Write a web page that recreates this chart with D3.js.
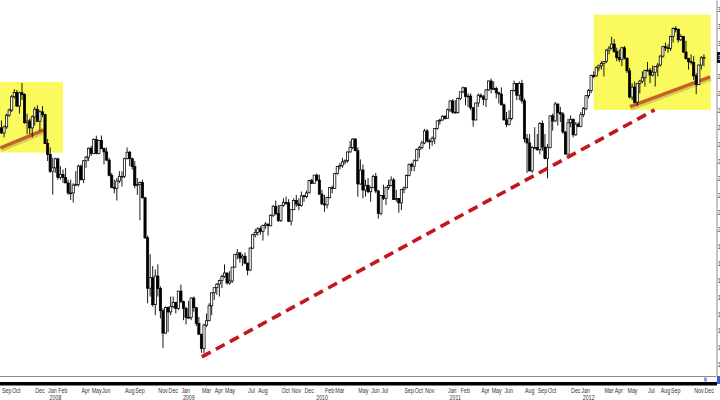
<!DOCTYPE html>
<html>
<head>
<meta charset="utf-8">
<script src="https://cdn.jsdelivr.net/npm/d3@7"></script>
<style>
  html, body { margin: 0; padding: 0; background: #fff; }
  svg { display: block; font-family: "Liberation Sans", Arial, sans-serif; }
</style>
</head>
<body>
<div id="chart"></div>
<script>
// weekly bars, first one is the week starting Mon 20 Aug 2007
const firstWeek = new Date(2007, 7, 20)

const opens = [
  2520, 2576, 2596, 2566, 2602, 2671, 2701, 2780, 2805, 2725, 2804, 2794, 2627, 2637, 2596, 2661, 2706, 2635, 2691,
  2674, 2504, 2439, 2340, 2360, 2413, 2304, 2321, 2303, 2271, 2212, 2212, 2258, 2261, 2370, 2290, 2402, 2423, 2476, 2445, 2528, 2444, 2522, 2474, 2454, 2406,
  2316, 2245, 2239, 2282, 2310, 2310, 2414, 2452, 2414, 2368, 2255, 2261, 2273, 2183, 1947, 1649, 1711, 1552, 1721, 1647, 1516, 1384, 1536, 1509, 1540, 1564,
  1530, 1632, 1571, 1529, 1477, 1476, 1591, 1534, 1441, 1377, 1293, 1431, 1457, 1545, 1622, 1652, 1673, 1694, 1719, 1739, 1680, 1692, 1774, 1849, 1858, 1827,
  1838, 1797, 1756, 1886, 1965, 1979, 2000, 1985, 2020, 2028, 2018, 2080, 2133, 2090, 2048, 2139, 2156, 2154, 2045, 2113, 2167, 2146, 2138, 2195, 2190, 2212,
  2285, 2269, 2317, 2288, 2205, 2147, 2141, 2184, 2243, 2238, 2327, 2368, 2374, 2395, 2402, 2454, 2481, 2530, 2461, 2265, 2347, 2229, 2257, 2219, 2243, 2309,
  2223, 2091, 2196, 2179, 2245, 2255, 2288, 2173, 2179, 2153, 2233, 2242, 2315, 2381, 2370, 2402, 2468, 2479, 2507, 2578, 2518, 2518, 2535, 2592, 2637, 2642, 2665,
  2653, 2703, 2755, 2689, 2686, 2769, 2809, 2833, 2781, 2784, 2715, 2643, 2743, 2789, 2780, 2764, 2820, 2873, 2827, 2828, 2803, 2796, 2732, 2643, 2616, 2652,
  2816, 2859, 2789, 2858, 2756, 2532, 2507, 2342, 2480, 2480, 2467, 2622, 2483, 2415, 2479, 2667, 2637, 2737, 2686, 2678, 2572, 2441, 2626, 2647, 2555, 2618,
  2605, 2674, 2710, 2786, 2816, 2905, 2903, 2951, 2963, 2976, 2988, 3055, 3067, 3091, 3047, 3011, 3000, 3069, 3008, 2933, 2778, 2837, 2747, 2858, 2872,
  2892, 2935, 2937, 2908, 2925, 2958, 2967, 3020, 3076, 3069, 3066, 3136, 3183, 3179, 3116, 3136, 3044, 3005, 2987, 2982, 2904, 2853, 2967, 3010
]

const highs = [
  2580, 2600, 2640, 2610, 2680, 2710, 2790, 2825, 2820, 2810, 2861, 2800, 2680, 2650, 2670, 2720, 2730, 2700, 2725,
  2680, 2530, 2480, 2420, 2420, 2420, 2370, 2350, 2360, 2290, 2290, 2270, 2340, 2380, 2380, 2405, 2430, 2480, 2490, 2535, 2550, 2525, 2551, 2480, 2480, 2420,
  2330, 2290, 2300, 2340, 2340, 2420, 2480, 2460, 2420, 2400, 2300, 2280, 2290, 2190, 1960, 1850, 1780, 1760, 1790, 1660, 1530, 1540, 1540, 1600, 1600, 1570,
  1632, 1670, 1575, 1540, 1575, 1595, 1600, 1535, 1480, 1380, 1440, 1500, 1560, 1625, 1655, 1680, 1700, 1730, 1790, 1740, 1750, 1775, 1850, 1880, 1860, 1850,
  1860, 1800, 1890, 1970, 2000, 2010, 2015, 2025, 2040, 2030, 2085, 2140, 2167, 2140, 2140, 2180, 2190, 2175, 2115, 2180, 2200, 2180, 2220, 2200, 2225, 2290,
  2295, 2317, 2326, 2320, 2230, 2200, 2190, 2245, 2255, 2330, 2370, 2390, 2420, 2410, 2455, 2520, 2535, 2535, 2480, 2410, 2380, 2290, 2300, 2250, 2320, 2330,
  2230, 2200, 2260, 2250, 2290, 2310, 2300, 2230, 2180, 2235, 2250, 2320, 2385, 2390, 2410, 2475, 2490, 2520, 2590, 2590, 2530, 2545, 2595, 2640, 2650, 2670, 2670,
  2710, 2760, 2766, 2760, 2775, 2810, 2840, 2835, 2800, 2800, 2720, 2745, 2800, 2800, 2790, 2825, 2875, 2887, 2870, 2840, 2810, 2835, 2740, 2690, 2700, 2820,
  2875, 2860, 2870, 2880, 2770, 2560, 2560, 2490, 2600, 2560, 2630, 2640, 2560, 2500, 2670, 2680, 2750, 2740, 2720, 2690, 2575, 2650, 2670, 2650, 2630, 2630,
  2690, 2720, 2790, 2825, 2910, 2930, 2960, 2970, 2990, 2990, 3060, 3080, 3134, 3120, 3070, 3060, 3075, 3080, 3010, 2950, 2860, 2870, 2860, 2880, 2930,
  2940, 2985, 2950, 2965, 2960, 2980, 3025, 3080, 3100, 3090, 3140, 3190, 3196, 3180, 3150, 3140, 3110, 3010, 3030, 3020, 2920, 2970, 3020, 3030
]

const lows = [
  2510, 2500, 2560, 2540, 2590, 2660, 2690, 2770, 2720, 2680, 2760, 2620, 2560, 2560, 2540, 2610, 2630, 2580, 2660,
  2500, 2400, 2330, 2202, 2330, 2290, 2290, 2270, 2270, 2200, 2170, 2155, 2255, 2250, 2285, 2270, 2360, 2400, 2430, 2440, 2440, 2440, 2470, 2380, 2400, 2310,
  2240, 2210, 2167, 2270, 2250, 2300, 2410, 2370, 2350, 2240, 2200, 2050, 2180, 1940, 1560, 1600, 1540, 1490, 1600, 1470, 1295, 1380, 1390, 1490, 1530, 1500,
  1520, 1560, 1460, 1435, 1470, 1460, 1510, 1425, 1375, 1268, 1265, 1420, 1455, 1490, 1580, 1610, 1600, 1650, 1710, 1670, 1670, 1680, 1770, 1820, 1800, 1780,
  1790, 1725, 1750, 1880, 1950, 1960, 1965, 1930, 2000, 1960, 2015, 2070, 2080, 2040, 2040, 2130, 2140, 2040, 2020, 2110, 2130, 2110, 2130, 2160, 2180, 2210,
  2265, 2265, 2280, 2200, 2140, 2100, 2120, 2180, 2210, 2235, 2320, 2350, 2360, 2380, 2390, 2450, 2470, 2460, 2190, 2260, 2180, 2190, 2210, 2160, 2240, 2210,
  2060, 2080, 2170, 2140, 2230, 2250, 2170, 2160, 2095, 2110, 2210, 2240, 2310, 2340, 2340, 2400, 2420, 2470, 2500, 2510, 2470, 2490, 2500, 2585, 2615, 2640, 2645,
  2650, 2690, 2680, 2680, 2680, 2760, 2800, 2730, 2720, 2700, 2603, 2640, 2720, 2770, 2730, 2720, 2815, 2800, 2820, 2770, 2740, 2730, 2640, 2600, 2610, 2640,
  2810, 2760, 2760, 2740, 2510, 2330, 2340, 2330, 2470, 2460, 2440, 2460, 2410, 2298, 2475, 2580, 2630, 2610, 2630, 2560, 2440, 2440, 2600, 2540, 2550, 2600,
  2600, 2660, 2700, 2770, 2800, 2890, 2900, 2930, 2940, 2900, 2980, 3030, 3060, 3040, 2990, 2985, 2960, 3000, 2920, 2770, 2760, 2745, 2726, 2800, 2860,
  2840, 2930, 2860, 2900, 2840, 2900, 2960, 3010, 3050, 3040, 3050, 3100, 3160, 3100, 3110, 3040, 3000, 2940, 2970, 2880, 2795, 2850, 2940, 2960
]

const closes = [
  2576, 2596, 2566, 2602, 2671, 2701, 2780, 2805, 2725, 2804, 2794, 2627, 2637, 2596, 2661, 2706, 2635, 2691, 2674,
  2504, 2439, 2340, 2360, 2413, 2304, 2321, 2303, 2271, 2212, 2212, 2258, 2261, 2370, 2290, 2402, 2423, 2476, 2445, 2528, 2444, 2522, 2474, 2454, 2406, 2316,
  2245, 2239, 2282, 2310, 2310, 2414, 2452, 2414, 2368, 2255, 2261, 2273, 2183, 1947, 1649, 1711, 1552, 1721, 1647, 1516, 1384, 1536, 1509, 1540, 1564, 1530,
  1632, 1571, 1529, 1477, 1476, 1591, 1534, 1441, 1377, 1293, 1431, 1457, 1545, 1622, 1652, 1673, 1694, 1719, 1739, 1680, 1692, 1774, 1849, 1858, 1827, 1838,
  1797, 1756, 1886, 1965, 1979, 2000, 1985, 2020, 2028, 2018, 2080, 2133, 2090, 2048, 2139, 2156, 2154, 2045, 2113, 2167, 2146, 2138, 2195, 2190, 2212, 2285,
  2269, 2317, 2288, 2205, 2147, 2141, 2184, 2243, 2238, 2327, 2368, 2374, 2395, 2402, 2454, 2481, 2530, 2461, 2265, 2347, 2229, 2257, 2219, 2243, 2309, 2223,
  2091, 2196, 2179, 2245, 2255, 2288, 2173, 2179, 2153, 2233, 2242, 2315, 2381, 2370, 2402, 2468, 2479, 2507, 2578, 2518, 2518, 2535, 2592, 2637, 2642, 2665, 2653,
  2703, 2755, 2689, 2686, 2769, 2809, 2833, 2781, 2784, 2715, 2643, 2743, 2789, 2780, 2764, 2820, 2873, 2827, 2828, 2803, 2796, 2732, 2643, 2616, 2652, 2816,
  2859, 2789, 2858, 2756, 2532, 2507, 2342, 2480, 2480, 2467, 2622, 2483, 2415, 2479, 2667, 2637, 2737, 2686, 2678, 2572, 2441, 2626, 2647, 2555, 2618, 2605,
  2674, 2710, 2786, 2816, 2905, 2903, 2951, 2963, 2976, 2988, 3055, 3067, 3091, 3047, 3011, 3000, 3069, 3008, 2933, 2778, 2837, 2747, 2858, 2872, 2892,
  2935, 2937, 2908, 2925, 2958, 2967, 3020, 3076, 3069, 3066, 3136, 3183, 3179, 3116, 3136, 3044, 3005, 2987, 2982, 2904, 2853, 2967, 3010, 3012
]

// x axis labels (month starts shown by the chart) and year captions
const monthTicks = [
  '2007-09', '2007-10', '2007-12',
  '2008-01', '2008-02', '2008-04', '2008-05', '2008-06', '2008-08', '2008-09', '2008-11', '2008-12',
  '2009-01', '2009-03', '2009-04', '2009-05', '2009-07', '2009-08', '2009-10', '2009-11', '2009-12',
  '2010-02', '2010-03', '2010-05', '2010-06', '2010-07', '2010-09', '2010-10', '2010-11',
  '2011-01', '2011-02', '2011-04', '2011-05', '2011-06', '2011-08', '2011-09', '2011-10', '2011-12',
  '2012-01', '2012-03', '2012-04', '2012-05', '2012-07', '2012-08', '2012-09', '2012-11', '2012-12'
]
const yearTicks = [2008, 2009, 2010, 2011, 2012]
const priceTicks = [1200, 1300, 1400, 1500, 1600, 1700, 1800, 1900, 2000, 2100, 2200, 2300,
  2400, 2500, 2600, 2700, 2800, 2900, 3000, 3100, 3200, 3300]

// hand drawn annotations, in date / price terms
const highlightBoxes = [
  { from: '2007-08-01', to: '2008-02-18', top: 2868, bottom: 2450 },
  { from: '2012-02-06', to: '2012-12-22', top: 3265, bottom: 2702 }
]
const supportLines = [
  [['2007-08-31', 2478], ['2007-12-28', 2584]],
  [['2012-05-15', 2722], ['2012-12-20', 2897]]
]
const trendLine = [['2009-03-03', 1243], ['2012-07-21', 2702]]

const width = 720
const height = 400
const plot = { right: 716, bottom: 376 }
const labelFont = 8
const squeeze = 'scale(0.66,1)'
const parseDay = d3.timeParse('%Y-%m-%d')
const parseMonth = d3.timeParse('%Y-%m')

const bars = closes.map((c, i) => ({
  date: d3.timeMonday.offset(firstWeek, i),
  open: opens[i], high: highs[i], low: lows[i], close: c
}))

const x = d3.scaleTime()
  .domain([new Date(2007, 7, 30), new Date(2013, 0, 5)])
  .range([0, plot.right])
const y = d3.scaleLinear()
  .domain([1130.5, 3351.4])
  .range([plot.bottom, 0])

const svg = d3.select('#chart').append('svg')
  .attr('width', width)
  .attr('height', height)

svg.append('defs').append('clipPath').attr('id', 'plot-clip')
  .append('rect')
  .attr('width', plot.right)
  .attr('height', plot.bottom)

const main = svg.append('g').attr('clip-path', 'url(#plot-clip)')

main.selectAll('.highlight')
  .data(highlightBoxes)
  .join('rect')
  .attr('class', 'highlight')
  .attr('x', d => x(parseDay(d.from)))
  .attr('y', d => y(d.top))
  .attr('width', d => x(parseDay(d.to)) - x(parseDay(d.from)))
  .attr('height', d => y(d.bottom) - y(d.top))
  .attr('fill', '#fafa5e')

const line = d3.line()
  .x(d => x(parseDay(d[0])))
  .y(d => y(d[1]))

// support lines get a soft shadow under them
main.selectAll('.support-shadow')
  .data(supportLines)
  .join('path')
  .attr('class', 'support-shadow')
  .attr('d', line)
  .attr('transform', 'translate(1,2.5)')
  .attr('fill', 'none')
  .attr('stroke', '#b9b24a')
  .attr('stroke-width', 3)
  .attr('opacity', 0.6)

main.selectAll('.support')
  .data(supportLines)
  .join('path')
  .attr('class', 'support')
  .attr('d', line)
  .attr('fill', 'none')
  .attr('stroke', '#c8602a')
  .attr('stroke-width', 3.5)

const candle = main.selectAll('.candle')
  .data(bars)
  .join('g')
  .attr('class', 'candle')
  .attr('transform', d => `translate(${x(d.date)},0)`)

candle.append('line')
  .attr('y1', d => y(d.high))
  .attr('y2', d => y(d.low))
  .attr('stroke', '#000')
  .attr('stroke-width', 0.9)

candle.append('rect')
  .attr('x', -1.1)
  .attr('width', 2.2)
  .attr('y', d => y(Math.max(d.open, d.close)))
  .attr('height', d => Math.max(0.8, Math.abs(y(d.open) - y(d.close))))
  .attr('fill', d => d.close >= d.open ? '#fff' : '#000')
  .attr('stroke', '#000')
  .attr('stroke-width', 0.75)

main.append('path')
  .datum(trendLine)
  .attr('d', line)
  .attr('fill', 'none')
  .attr('stroke', '#c4161c')
  .attr('stroke-width', 3.6)
  .attr('stroke-dasharray', '10 6')

// right price axis, labels run off the edge of the window
const yAxis = svg.append('g')
  .attr('transform', `translate(${plot.right + 0.5},0)`)
  .call(d3.axisRight(y).tickValues(priceTicks).tickSize(0).tickPadding(2).tickFormat(d3.format('d')))
yAxis.select('.domain').attr('stroke', '#8a8a8a')
yAxis.selectAll('text')
  .attr('font-size', labelFont)
  .attr('fill', '#333')
  .attr('transform', squeeze)

const last = bars[bars.length - 1]
const tag = svg.append('g').attr('transform', `translate(${plot.right + 1},${y(last.close)})`)
tag.append('rect')
  .attr('y', -5.5)
  .attr('width', 10)
  .attr('height', 11)
  .attr('fill', '#111')
tag.append('text')
  .attr('x', 1.5)
  .attr('dy', '0.33em')
  .attr('font-size', labelFont)
  .attr('fill', '#fff')
  .attr('transform', squeeze)
  .text(d3.format('.2f')(last.close))

// bottom frame: border line, scroller bar and its little markers
svg.append('line')
  .attr('x1', 0).attr('x2', plot.right)
  .attr('y1', plot.bottom + 0.5).attr('y2', plot.bottom + 0.5)
  .attr('stroke', '#8a8a8a')
svg.append('rect')
  .attr('x', 0).attr('y', 382)
  .attr('width', plot.right + 1).attr('height', 3.5)
  .attr('fill', '#000')
svg.append('rect')
  .attr('x', 704).attr('y', 377.5)
  .attr('width', 3).attr('height', 4)
  .attr('fill', '#8c9be6')
svg.append('rect')
  .attr('x', 717).attr('y', 376)
  .attr('width', 3).attr('height', 8)
  .attr('fill', '#3f5fd0')

const monthDates = monthTicks.map(m => d3.timeMonday.ceil(parseMonth(m)))
const xAxis = svg.append('g')
  .attr('transform', 'translate(0,392.5)')
  .call(d3.axisBottom(x).tickValues(monthDates).tickSize(0).tickPadding(0).tickFormat(d3.timeFormat('%b')))
xAxis.select('.domain').remove()
xAxis.selectAll('text')
  .attr('text-anchor', 'start')
  .attr('y', 0)
  .attr('dy', 0)
  .attr('font-size', labelFont)
  .attr('fill', '#333')
  .attr('transform', squeeze)

svg.append('g').selectAll('text')
  .data(yearTicks)
  .join('text')
  .attr('transform', d => `translate(${x(d3.timeMonday.ceil(new Date(d, 0, 1))) + 2},399.5) ${squeeze}`)
  .attr('font-size', labelFont)
  .attr('fill', '#333')
  .text(d => d)
</script>
</body>
</html>
